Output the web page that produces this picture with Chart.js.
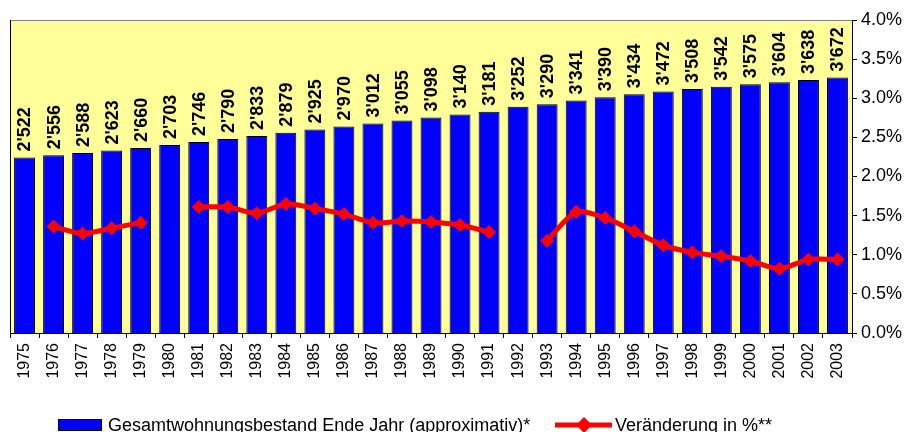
<!DOCTYPE html>
<html>
<head>
<meta charset="utf-8">
<script src="https://cdn.jsdelivr.net/npm/chart.js@4/dist/chart.umd.min.js"></script>
<style>
    body { margin: 0; background: #fff; }
    #wrap { width: 911px; height: 432px; }
</style>
</head>
<body>
<div id="wrap"><canvas id="chart_area" width="911" height="432"></canvas></div>
<script>
"use strict"
// data
var years = ["1975", "1976", "1977", "1978", "1979", "1980", "1981", "1982", "1983", "1984",
    "1985", "1986", "1987", "1988", "1989", "1990", "1991", "1992", "1993", "1994",
    "1995", "1996", "1997", "1998", "1999", "2000", "2001", "2002", "2003"];
var stock = [2522, 2556, 2588, 2623, 2660, 2703, 2746, 2790, 2833, 2879,
    2925, 2970, 3012, 3055, 3098, 3140, 3181, 3252, 3290, 3341,
    3390, 3434, 3472, 3508, 3542, 3575, 3604, 3638, 3672];
var change = [null, 1.36, 1.27, 1.34, 1.41, null, 1.61, 1.61, 1.53, 1.65,
    1.59, 1.52, 1.41, 1.43, 1.42, 1.38, 1.29, null, 1.18, 1.55,
    1.47, 1.30, 1.12, 1.03, 0.98, 0.92, 0.82, 0.94, 0.94];
var pctTicks = [0, 0.5, 1, 1.5, 2, 2.5, 3, 3.5, 4];
var stockLabel = "Gesamtwohnungsbestand Ende Jahr (approximativ)*";
var changeLabel = "Veränderung in %**";

function fmt(v){
    var s = String(v);
    return s.slice(0, -3) + "'" + s.slice(-3);
}

var plotBg = {
    id: 'plotBg',
    beforeDraw: function(chart){
        var a = chart.chartArea, ctx = chart.ctx;
        ctx.save();
        ctx.fillStyle = "#FFFF99";
        ctx.fillRect(a.left, a.top, a.right - a.left, a.bottom - a.top);
        ctx.lineWidth = 1;
        ctx.strokeStyle = "#808080";
        ctx.beginPath();
        ctx.moveTo(a.left, a.top + 0.5);
        ctx.lineTo(a.right, a.top + 0.5);
        ctx.stroke();
        ctx.strokeStyle = "#000";
        ctx.beginPath();
        ctx.moveTo(a.left + 0.5, a.top);
        ctx.lineTo(a.left + 0.5, a.bottom);
        ctx.stroke();
        ctx.restore();
    }
};

var barLabels = {
    id: 'barLabels',
    afterDatasetsDraw: function(chart){
        var ctx = chart.ctx;
        var meta = chart.getDatasetMeta(0);
        ctx.save();
        ctx.fillStyle = "#000";
        ctx.font = "bold 18px Arial, 'Liberation Sans'";
        ctx.textAlign = "left";
        ctx.textBaseline = "middle";
        meta.data.forEach(function(bar, i){
            ctx.save();
            ctx.translate(bar.x + 1, bar.y - 6);
            ctx.rotate(-Math.PI / 2);
            ctx.fillText(fmt(stock[i]), 0, 0);
            ctx.restore();
        });
        ctx.restore();
    }
};

var legendBox = {
    id: 'legendBox',
    afterDraw: function(chart){
        var ctx = chart.ctx;
        var ds = chart.data.datasets;
        var y = 425;
        ctx.save();
        ctx.font = "18px Arial, 'Liberation Sans'";
        ctx.textBaseline = "middle";
        ctx.textAlign = "left";
        // bar entry
        ctx.fillStyle = ds[0].backgroundColor;
        ctx.fillRect(58, y - 6, 44, 12);
        ctx.strokeStyle = "#000";
        ctx.lineWidth = 1;
        ctx.strokeRect(58.5, y - 5.5, 43, 11);
        ctx.fillStyle = "#000";
        ctx.fillText(ds[0].label, 108, y + 1);
        // line entry
        ctx.strokeStyle = ds[1].borderColor;
        ctx.lineWidth = 5;
        ctx.beginPath();
        ctx.moveTo(555, y);
        ctx.lineTo(612, y);
        ctx.stroke();
        ctx.fillStyle = ds[1].borderColor;
        ctx.beginPath();
        ctx.moveTo(584, y - 8);
        ctx.lineTo(592, y);
        ctx.lineTo(584, y + 8);
        ctx.lineTo(576, y);
        ctx.closePath();
        ctx.fill();
        ctx.fillStyle = "#000";
        ctx.fillText(ds[1].label, 615, y + 1);
        ctx.restore();
    }
};

var chartArea = document.getElementById("chart_area");
var stockChart = new Chart(chartArea, {
    type: 'bar',
    data: {
        labels: years,
        datasets: [
            {
                type: 'bar',
                label: stockLabel,
                data: stock,
                yAxisID: 'y',
                backgroundColor: "#0000FF",
                borderColor: "#000",
                borderWidth: 1,
                barPercentage: 0.72,
                categoryPercentage: 1,
                order: 2
            },
            {
                type: 'line',
                label: changeLabel,
                data: change,
                yAxisID: 'y1',
                borderColor: "#FF0000",
                backgroundColor: "#FF0000",
                borderWidth: 5,
                tension: 0.25,
                spanGaps: false,
                fill: false,
                pointStyle: 'rectRot',
                pointRadius: 7,
                pointBorderWidth: 0,
                order: 1
            }
        ]
    },
    options: {
        responsive: false,
        animation: false,
        layout: { padding: { left: 10, top: 20, right: 0, bottom: 39 } },
        plugins: {
            legend: { display: false },
            tooltip: { enabled: false }
        },
        scales: {
            x: {
                offset: true,
                grid: { offset: true, drawOnChartArea: false, color: "#000", tickLength: 5 },
                border: { color: "#000" },
                ticks: {
                    minRotation: 90, maxRotation: 90, autoSkip: false, padding: 5,
                    color: "#000", font: { family: "Arial, 'Liberation Sans'", size: 16 }
                },
                afterFit: function(scale){ scale.height = 60; }
            },
            y: {
                display: false,
                min: 0,
                max: 4500
            },
            y1: {
                position: 'right',
                min: 0,
                max: 4,
                grid: { drawOnChartArea: false, color: "#000", tickLength: 5 },
                border: { color: "#000" },
                afterBuildTicks: function(scale){
                    scale.ticks = pctTicks.map(function(v){ return { value: v }; });
                },
                ticks: {
                    padding: 4,
                    color: "#000",
                    font: { family: "Arial, 'Liberation Sans'", size: 18 },
                    callback: function(v){ return v.toFixed(1) + "%"; }
                },
                afterFit: function(scale){ scale.width = 59; }
            }
        }
    },
    plugins: [plotBg, barLabels, legendBox]
});
</script>
</body>
</html>
